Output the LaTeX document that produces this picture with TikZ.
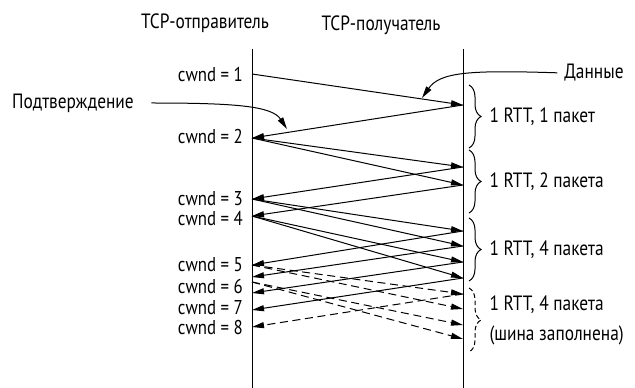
\documentclass[tikz,border=0pt]{standalone}
\usepackage{fontspec}
\setmainfont{PT Sans}[FakeStretch=0.84]
\usetikzlibrary{arrows.meta,decorations.pathreplacing,positioning}

\begin{document}
\begin{tikzpicture}[
  x=0.75pt, y=-0.75pt,
  lbl/.style={font=\fontsize{15.5}{18}\selectfont, inner sep=1pt},
  cw/.style={lbl, font=\fontsize{15}{16}\selectfont, anchor=east, inner sep=0pt, text height=10pt, text depth=0pt},
  arr/.style={-{Triangle[length=9pt,width=4.5pt]}, line width=0.75pt},
  darr/.style={arr, dash pattern=on 6pt off 3.5pt},
  brc/.style={decorate, decoration={brace, amplitude=9pt}, line width=0.75pt},
  rtt/.style={lbl, midway, anchor=west, xshift=14pt},
]
\useasboundingbox (0,0) rectangle (635,388);

\node[lbl] (snd) at (205,23) {TCP-отправитель};
\node[lbl] (rcv) at (381,25) {TCP-получатель};
\draw[line width=0.75pt] (252,49) -- (252,388);
\draw[line width=0.75pt] (463,49) -- (463,388);

\foreach \n/\y in {a1/74, a2/138, a3/199, a4/216, a5/265, a5b/277, a6/282,
                   a6b/293, a7/310, a8/327}
  \coordinate (\n) at (252,\y);
\foreach \n/\y in {b1/105, b2/167, b3/185, b4/231, b5/246, b6/262, b7/278,
                   b8/294, b9/309, b10/325, b11/339}
  \coordinate (\n) at (463,\y);

\node[cw] (w1) at (243,75) {cwnd = 1};
\node[cw] (w2) at (243,137) {cwnd = 2};
\node[cw] (w3) at (243,199) {cwnd = 3};
\node[cw] (w4) at (243,219) {cwnd = 4};
\node[cw] (w5) at (243,265) {cwnd = 5};
\node[cw] (w6) at (243,287) {cwnd = 6};
\node[cw] (w7) at (243,308) {cwnd = 7};
\node[cw] (w8) at (243,328) {cwnd = 8};

\draw[arr] (a1) -- (b1);
\draw[arr] (b1) -- (a2);
\draw[arr] (a2) -- (b2);
\draw[arr] (a2) -- (b3);
\draw[arr] (b2) -- (a3);
\draw[arr] (b3) -- (a4);
\draw[arr] (a3) -- (b4);
\draw[arr] (a3) -- (b5);
\draw[arr] (a4) -- (b6);
\draw[arr] (a4) -- (b7);
\draw[arr] (b4) -- (a5);
\draw[arr] (b5) -- (a5b);
\draw[arr] (b6) -- (a6b);
\draw[arr] (b7) -- (a7);
\draw[darr] (a5) -- (b8);
\draw[darr] (a5) -- (b9);
\draw[darr] (a6) -- (b10);
\draw[darr] (a6) -- (b11);
\draw[darr] (b8) -- (a8);

\draw[brc] (469,85) -- (469,148) node[rtt] (rtt1) {1 RTT, 1 пакет};
\draw[brc] (469,150) -- (469,213) node[rtt] (rtt2) {1 RTT, 2 пакета};
\draw[brc] (469,218) -- (469,281) node[rtt] (rtt3) {1 RTT, 4 пакета};
\draw[brc, dash pattern=on 3.5pt off 2pt] (469,288) -- (469,352)
  node[rtt, align=left, font=\fontsize{15.5}{22.5}\selectfont] (rtt4) {1 RTT, 4 пакета\\(шина заполнена)};

\node[lbl] (dat) at (594,73) {Данные};
\coordinate (dtip) at (422,98);
\draw[arr, shorten <=4pt] (dat.west) .. controls (470,70) and (440,72) .. (dtip);

\node[lbl] (ack) at (73,103) {Подтверждение};
\coordinate (atip) at (287,129);
\draw[arr, shorten <=12pt] (ack.east) .. controls (235,103) and (272,106) .. (atip);
\end{tikzpicture}
\end{document}
